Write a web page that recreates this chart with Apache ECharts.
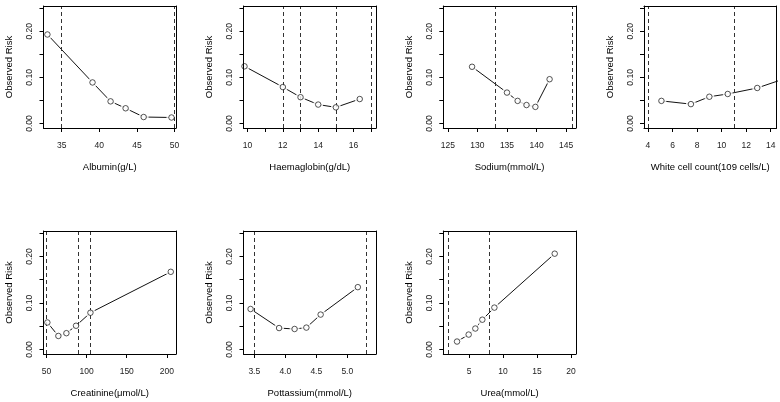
<!DOCTYPE html>
<html>
<head>
<meta charset="utf-8">
<script src="https://cdn.jsdelivr.net/npm/echarts@6/dist/echarts.min.js"></script>
<style>
  html, body { margin: 0; background: #fff; }
  #chart { width: 780px; height: 402px; }
</style>
</head>
<body>
<div id="chart"></div>
<script>
// observed risk per band of each lab value
const albuminX = [33.1, 39.1, 41.5, 43.5, 45.9, 49.6];
const albuminRisk = [0.193, 0.089, 0.048, 0.033, 0.014, 0.013];
const albuminCutoffs = [35, 50];
const albuminTicks = [35, 40, 45, 50];

const haemoglobinX = [9.83, 12.0, 13.0, 14.0, 15.0, 16.35];
const haemoglobinRisk = [0.124, 0.079, 0.057, 0.041, 0.035, 0.053];
const haemoglobinCutoffs = [12, 13, 15, 17];
const haemoglobinTicks = [10, 11, 12, 13, 14, 15, 16, 17];
const haemoglobinLabels = [10, 12, 14, 16];

const sodiumX = [129.1, 135.0, 136.8, 138.3, 139.8, 142.2];
const sodiumRisk = [0.123, 0.067, 0.049, 0.040, 0.036, 0.096];
const sodiumCutoffs = [133, 146];
const sodiumTicks = [125, 130, 135, 140, 145];

// last band sits past the visible axis, only its connecting line shows
const wbcX = [5.1, 7.5, 9.0, 10.5, 12.9, 16.0];
const wbcRisk = [0.049, 0.042, 0.058, 0.064, 0.077, 0.105];
const wbcCutoffs = [4, 11];
const wbcTicks = [4, 6, 8, 10, 12, 14];

const creatinineX = [51.2, 64.9, 74.9, 86.9, 104.8, 204.8];
const creatinineRisk = [0.058, 0.029, 0.035, 0.051, 0.079, 0.167];
const creatinineCutoffs = [50, 90, 105];
const creatinineTicks = [50, 100, 150, 200];

const potassiumX = [3.44, 3.90, 4.15, 4.34, 4.57, 5.17];
const potassiumRisk = [0.087, 0.046, 0.044, 0.047, 0.075, 0.134];
const potassiumCutoffs = [3.5, 5.3];
const potassiumTicks = [3.5, 4.0, 4.5, 5.0];

const ureaX = [3.24, 4.95, 5.93, 6.96, 8.73, 17.6];
const ureaRisk = [0.017, 0.032, 0.045, 0.064, 0.090, 0.206];
const ureaCutoffs = [2, 8];
const ureaTicks = [5, 10, 15, 20];

const riskTicks = [0, 0.05, 0.1, 0.15, 0.2, 0.25];
const riskLabels = [0, 0.1, 0.2];

const FONT = '"Liberation Sans", Arial, sans-serif';
const INK = '#000';

const panels = [
  { name: 'Albumin(g/L)', x: albuminX, y: albuminRisk, cut: albuminCutoffs,
    ticks: albuminTicks, labels: albuminTicks, dec: 0, min: 32.58, max: 50.2, left: 43.5, row: 0 },
  { name: 'Haemaglobin(g/dL)', x: haemoglobinX, y: haemoglobinRisk, cut: haemoglobinCutoffs,
    ticks: haemoglobinTicks, labels: haemoglobinLabels, dec: 0, min: 9.774, max: 17.27, left: 243.5, row: 0 },
  { name: 'Sodium(mmol/L)', x: sodiumX, y: sodiumRisk, cut: sodiumCutoffs,
    ticks: sodiumTicks, labels: sodiumTicks, dec: 0, min: 124.24, max: 146.63, left: 443.3, row: 0 },
  { name: 'White cell count(109 cells/L)', x: wbcX, y: wbcRisk, cut: wbcCutoffs,
    ticks: wbcTicks, labels: wbcTicks, dec: 0, min: 3.68, max: 14.47, left: 644, row: 0 },
  { name: 'Creatinine(μmol/L)', x: creatinineX, y: creatinineRisk, cut: creatinineCutoffs,
    ticks: creatinineTicks, labels: creatinineTicks, dec: 0, min: 46.4, max: 211.3, left: 43.5, row: 1 },
  { name: 'Pottassium(mmol/L)', x: potassiumX, y: potassiumRisk, cut: potassiumCutoffs,
    ticks: potassiumTicks, labels: potassiumTicks, dec: 1, min: 3.326, max: 5.463, left: 243.5, row: 1 },
  { name: 'Urea(mmol/L)', x: ureaX, y: ureaRisk, cut: ureaCutoffs,
    ticks: ureaTicks, labels: ureaTicks, dec: 0, min: 1.22, max: 20.7, left: 443.3, row: 1 },
];

const ROWS = [{ top: 6, height: 122 }, { top: 231, height: 123 }];
const PANEL_W = 132.5;
const Y_MIN = -0.0098, Y_MAX = 0.2548;

const grid = [], xAxis = [], yAxis = [], series = [];

panels.forEach((p, i) => {
  grid.push({ left: p.left, top: ROWS[p.row].top, width: PANEL_W, height: ROWS[p.row].height, show: false });

  const boxLine = { show: true, onZero: false, lineStyle: { color: INK, width: 1 } };
  const tickStyle = { show: true, inside: false, length: 4, lineStyle: { color: INK, width: 1 } };
  const labelStyle = { color: '#222', fontSize: 8.5, fontFamily: FONT };
  const nameStyle = { color: INK, fontSize: 9.5, fontFamily: FONT };

  xAxis.push({
    gridIndex: i, type: 'value', position: 'bottom', min: p.min, max: p.max, z: 10,
    axisLine: boxLine,
    axisTick: { ...tickStyle, customValues: p.ticks },
    axisLabel: { ...labelStyle, margin: 13.5, customValues: p.labels, formatter: v => v.toFixed(p.dec) },
    splitLine: { show: false },
    name: p.name, nameLocation: 'middle', nameGap: 34.5, nameTextStyle: nameStyle,
  });
  xAxis.push({
    gridIndex: i, type: 'value', position: 'top', min: p.min, max: p.max, z: 10,
    axisLine: boxLine, axisTick: { show: false }, axisLabel: { show: false }, splitLine: { show: false },
  });
  yAxis.push({
    gridIndex: i, type: 'value', position: 'left', min: Y_MIN, max: Y_MAX, z: 10,
    axisLine: boxLine,
    axisTick: { ...tickStyle, customValues: riskTicks },
    axisLabel: { ...labelStyle, margin: 9, rotate: 90, customValues: riskLabels, formatter: v => v.toFixed(2) },
    splitLine: { show: false },
    name: 'Observed Risk', nameLocation: 'middle', nameGap: 29, nameTextStyle: nameStyle,
  });
  yAxis.push({
    gridIndex: i, type: 'value', position: 'right', min: Y_MIN, max: Y_MAX, z: 10,
    axisLine: boxLine, axisTick: { show: false }, axisLabel: { show: false }, splitLine: { show: false },
  });

  const pts = p.x.map((v, k) => [v, p.y[k]]);
  const ax = { xAxisIndex: 2 * i, yAxisIndex: 2 * i };

  series.push({
    ...ax, type: 'line', data: pts, showSymbol: false, z: 2, silent: true, clip: true,
    lineStyle: { color: '#111', width: 1 },
  });
  // white discs under the points break the line the way R's type="b" does
  series.push({
    ...ax, type: 'scatter', data: pts, symbol: 'circle', symbolSize: 10, z: 3, silent: true,
    itemStyle: { color: '#fff' },
  });
  series.push({
    ...ax, type: 'scatter', data: pts, symbol: 'circle', symbolSize: 5.5, z: 5, silent: true,
    itemStyle: { color: '#fff', borderColor: '#111', borderWidth: 0.9 },
    markLine: {
      symbol: 'none', silent: true, label: { show: false },
      lineStyle: { color: '#333', type: [4, 3], width: 1 },
      data: p.cut.map(v => ({ xAxis: v })),
    },
  });
});

const chart = echarts.init(document.getElementById('chart'), null, { renderer: 'canvas' });
chart.setOption({
  backgroundColor: '#fff',
  animation: false,
  textStyle: { fontFamily: FONT },
  grid, xAxis, yAxis, series,
});
</script>
</body>
</html>
